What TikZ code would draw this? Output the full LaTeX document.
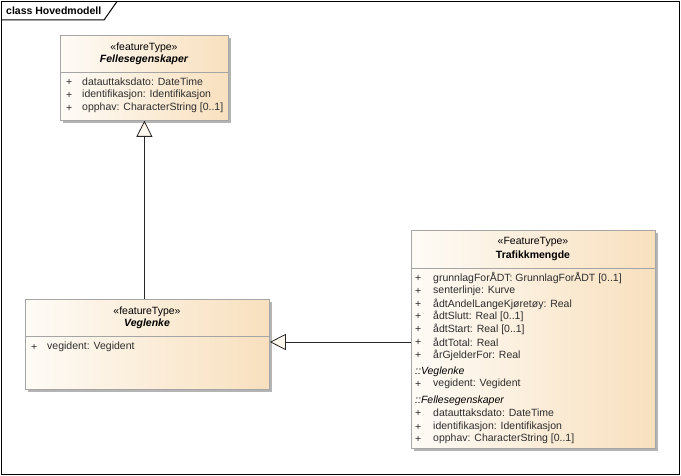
\documentclass[tikz,border=0pt]{standalone}
\usepackage{fontspec}
\setmainfont{Liberation Sans}
\usetikzlibrary{arrows.meta,shadows}
\definecolor{boxL}{RGB}{254,251,246}
\definecolor{boxR}{RGB}{248,224,190}
\definecolor{boxline}{RGB}{165,165,165}
\definecolor{shadowc}{RGB}{180,180,180}
\definecolor{txt}{RGB}{45,45,45}
\definecolor{tri}{RGB}{255,248,238}
\newcommand{\dfont}{\fontsize{10.5}{12}\selectfont}
\tikzset{
  cls/.style={rectangle, draw=boxline, line width=0.8pt, left color=boxL, right color=boxR,
    anchor=north west, inner sep=0pt,
    drop shadow={shadow xshift=3pt, shadow yshift=-3pt, fill=shadowc, opacity=1}},
  divider/.style={draw=boxline, line width=0.8pt},
  txtf/.style={font=\dfont, text=txt, inner sep=0pt},
  attr/.style={txtf, anchor=west},
  head/.style={font=\dfont, text=black, inner sep=0pt},
  gen/.style={draw=black!85, line width=0.8pt, -{Triangle[length=16pt, width=16pt, fill=tri, line width=0.8pt]}},
}
\begin{document}
\begin{tikzpicture}[x=1pt, y=-1pt]
\useasboundingbox (0,0) rectangle (681,476);
% frame
\draw[line width=1pt] (1.5,1.5) rectangle (679,474.5);
\draw[line width=1pt] (1.5,20) -- (104,20) -- (117,1.5);
\node[anchor=west, inner sep=0pt, font=\dfont\bfseries] (title) at (6,11) {class Hovedmodell};

% Fellesegenskaper
\node[cls, minimum width=168pt, minimum height=85pt] (F) at (60,35) {};
\draw[divider] (F.west |- 0,72) -- (F.east |- 0,72);
\node[head] (Fst) at (144,48) {«featureType»};
\node[head, font=\dfont\bfseries\itshape] (Fnm) at (144,60) {Fellesegenskaper};
\node[attr] (Fp1) at (66,82) {+};  \node[attr] (Fa1) at (82,82) {datauttaksdato: DateTime};
\node[attr] (Fp2) at (66,95) {+};  \node[attr] (Fa2) at (82,95) {identifikasjon: Identifikasjon};
\node[attr] (Fp3) at (66,108) {+}; \node[attr] (Fa3) at (82,108) {opphav: CharacterString [0..1]};

% Veglenke
\node[cls, minimum width=244pt, minimum height=90pt] (V) at (25,299) {};
\draw[divider] (V.west |- 0,336) -- (V.east |- 0,336);
\node[head] (Vst) at (147,312) {«featureType»};
\node[head, font=\dfont\bfseries\itshape] (Vnm) at (147,324) {Veglenke};
\node[attr] (Vp1) at (31,347) {+}; \node[attr] (Va1) at (47,347) {vegident: Vegident};

% Trafikkmengde
\node[cls, minimum width=244pt, minimum height=218pt] (T) at (411,230) {};
\draw[divider] (T.west |- 0,268) -- (T.east |- 0,268);
\node[head] (Tst) at (533,242) {«FeatureType»};
\node[head, font=\dfont\bfseries] (Tnm) at (533,256) {Trafikkmengde};
\node[attr] (Tp1) at (415,278) {+}; \node[attr] (Ta1) at (433,278) {grunnlagForÅDT: GrunnlagForÅDT [0..1]};
\node[attr] (Tp2) at (415,291) {+}; \node[attr] (Ta2) at (433,291) {senterlinje: Kurve};
\node[attr] (Tp3) at (415,304) {+}; \node[attr] (Ta3) at (433,304) {ådtAndelLangeKjøretøy: Real};
\node[attr] (Tp4) at (415,316) {+}; \node[attr] (Ta4) at (433,316) {ådtSlutt: Real [0..1]};
\node[attr] (Tp5) at (415,329) {+}; \node[attr] (Ta5) at (433,329) {ådtStart: Real [0..1]};
\node[attr] (Tp6) at (415,342) {+}; \node[attr] (Ta6) at (433,342) {ådtTotal: Real};
\node[attr] (Tp7) at (415,355) {+}; \node[attr] (Ta7) at (433,355) {årGjelderFor: Real};
\node[attr, text=black, font=\dfont\itshape] (Tg1) at (415,372) {::Veglenke};
\node[attr] (Tp8) at (415,384) {+}; \node[attr] (Ta8) at (433,384) {vegident: Vegident};
\node[attr, text=black, font=\dfont\itshape] (Tg2) at (415,401) {::Fellesegenskaper};
\node[attr] (Tp9) at (415,413) {+};  \node[attr] (Ta9) at (433,413) {datauttaksdato: DateTime};
\node[attr] (Tp10) at (415,427) {+}; \node[attr] (Ta10) at (433,427) {identifikasjon: Identifikasjon};
\node[attr] (Tp11) at (415,439) {+}; \node[attr] (Ta11) at (433,439) {opphav: CharacterString [0..1]};

% generalizations
\draw[gen] (F.south |- V.north) -- (F.south);
\coordinate (hy) at (0,342);
\draw[gen] (T.west |- hy) -- (V.east |- hy);
\end{tikzpicture}
\end{document}
